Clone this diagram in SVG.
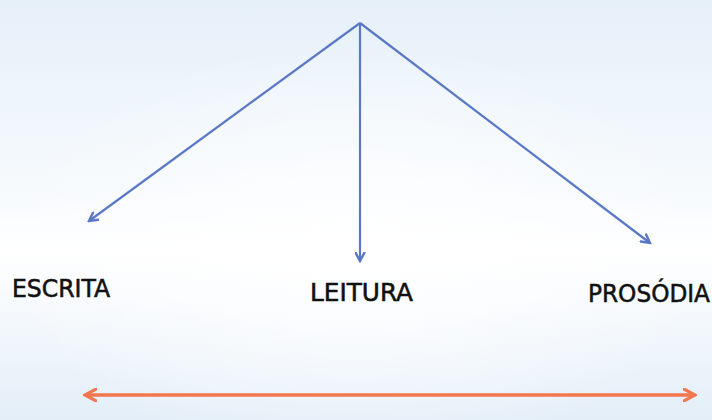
<svg xmlns="http://www.w3.org/2000/svg" width="712" height="420" viewBox="0 0 712 420">
<defs>
<linearGradient id="bg" x1="0" y1="0" x2="0" y2="1">
<stop offset="0" stop-color="#e6f0f9"/>
<stop offset="0.45" stop-color="#f6fafd"/>
<stop offset="0.6" stop-color="#ffffff"/>
<stop offset="1" stop-color="#e3eef8"/>
</linearGradient>
<radialGradient id="glow" cx="0.5" cy="0.6" r="0.5">
<stop offset="0" stop-color="#ffffff" stop-opacity="0.9"/>
<stop offset="1" stop-color="#ffffff" stop-opacity="0"/>
</radialGradient>
<marker id="ab" viewBox="0 0 10 10" refX="8.5" refY="5" markerWidth="5" markerHeight="5" orient="auto" markerUnits="strokeWidth">
<path d="M1,1 L8.5,5 L1,9" fill="none" stroke="#5a78c6" stroke-width="2.2" stroke-linecap="round"/>
</marker>
<marker id="ao" viewBox="0 0 10 10" refX="8.5" refY="5" markerWidth="4.2" markerHeight="4.2" orient="auto-start-reverse" markerUnits="strokeWidth">
<path d="M1,1 L8.5,5 L1,9" fill="none" stroke="#f2774f" stroke-width="2.2" stroke-linecap="round"/>
</marker>
<style>
.lbl{font-family:"DejaVu Sans Condensed","DejaVu Sans","Liberation Sans",sans-serif;font-size:24px;fill:#111;stroke:#111;stroke-width:0.5}
.blue{stroke:#5a78c6;stroke-width:2.2;fill:none;marker-end:url(#ab)}
.orange{stroke:#f2774f;stroke-width:3.5;fill:none;marker-start:url(#ao);marker-end:url(#ao)}
</style>
</defs>
<rect width="712" height="420" fill="url(#bg)"/>
<rect width="712" height="420" fill="url(#glow)"/>
<g id="connectors">
<line class="blue" x1="360" y1="23" x2="89" y2="221"/>
<line class="blue" x1="360" y1="23" x2="360" y2="261"/>
<line class="blue" x1="360" y1="23" x2="650" y2="243"/>
<line class="orange" x1="85" y1="395" x2="695" y2="395"/>
</g>
<g id="escrita"><text class="lbl" x="12" y="297" textLength="98" lengthAdjust="spacingAndGlyphs">ESCRITA</text></g>
<g id="leitura"><text class="lbl" x="310" y="301" textLength="103" lengthAdjust="spacingAndGlyphs">LEITURA</text></g>
<g id="prosodia"><text class="lbl" x="588" y="302" textLength="122" lengthAdjust="spacingAndGlyphs">PROSÓDIA</text></g>
</svg>
